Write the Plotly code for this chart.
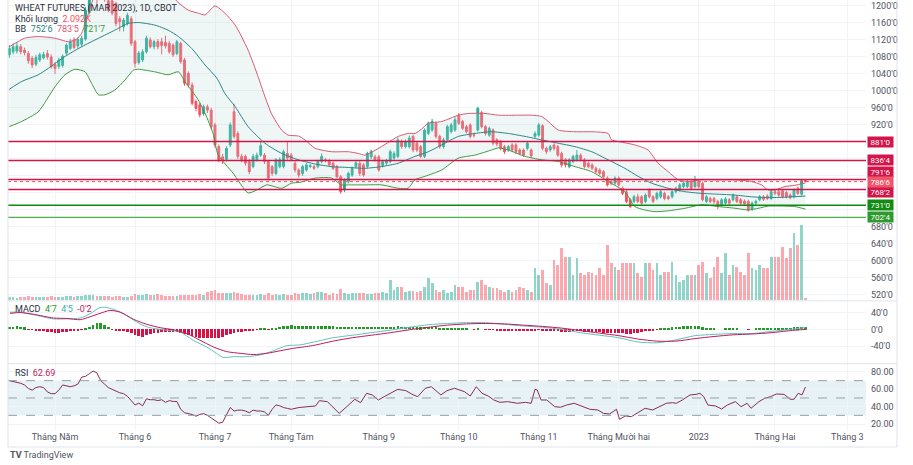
import pandas as pd
import plotly.graph_objects as go

# ---------------- data ----------------
TITLE = "WHEAT FUTURES (MAR 2023), 1D, CBOT"
holidays = ['2022-04-15', '2022-05-30', '2022-06-20', '2022-07-04', '2022-09-05',
            '2022-11-24', '2022-12-26', '2023-01-02', '2023-01-16', '2023-02-20']
tick_months = ['2022-05', '2022-06', '2022-07', '2022-08', '2022-09', '2022-10',
               '2022-11', '2022-12', '2023-01', '2023-02', '2023-03']
tick_labels = ['Tháng Năm', 'Tháng 6', 'Tháng 7', 'Tháng Tám', 'Tháng 9', 'Tháng 10',
               'Tháng 11', 'Tháng Mười hai', '2023', 'Tháng Hai', 'Tháng 3']

opens = [1085,1092,1094,1104,1096,1088,1077,1063,1073,1078,
         1088,1080,1062,1058,1060,1089,1100,1120,1106,1110,
         1122,1186,1240,1258,1245,1250,1212,1212,1206,1170,
         1151,1159,1170,1116,1067,1073,1092,1120,1104,1116,
         1116,1114,1112,1108,1088,1112,1073,1041,1014,975,
         967,947,963,955,920,869,845,839,873,951,
         900,846,846,834,822,838,849,849,834,822,
         806,822,822,853,849,830,814,806,814,822,
         822,822,834,838,834,830,822,798,767,787,
         802,822,830,826,822,845,845,845,824,830,
         834,842,846,881,869,869,893,877,869,846,
         900,908,924,893,869,885,904,908,943,928,
         916,920,897,908,949,916,896,908,885,881,
         869,861,873,873,861,861,865,861,893,896,
         918,865,861,873,869,853,838,822,834,838,
         849,838,830,826,818,814,810,795,787,783,
         795,771,763,744,740,751,751,740,767,751,
         747,751,759,751,751,763,767,775,775,787,
         775,787,783,740,747,747,740,732,736,744,
         744,751,744,741,740,722,736,744,751,753,
         747,763,763,765,761,755,751,771,757,789.5]
closes = [1100,1104,1106,1092,1090,1071,1061,1079,1085,1086,
          1080,1057,1053,1073,1082,1108,1116,1102,1121,1124,
          1190,1232,1262,1240,1255,1215,1190,1183,1159,1163,
          1167,1178,1112,1065,1089,1092,1124,1104,1116,1104,
          1107,1106,1092,1085,1116,1069,1018,1014,971,959,
          944,963,955,916,873,838,838,865,920,893,
          846,838,830,810,846,849,871,834,795,806,
          838,838,857,842,839,814,802,822,826,824,
          818,834,846,836,826,818,798,763,791,806,
          818,831,806,802,853,857,838,814,834,836,
          857,853,885,869,881,889,861,861,846,908,
          924,928,893,869,885,916,920,932,924,912,
          904,893,896,959,916,900,912,877,875,865,
          857,869,861,857,853,849,877,847,900,920,
          865,857,869,865,849,826,826,838,846,849,
          838,822,822,818,810,806,798,779,783,795,
          779,759,740,728,751,740,736,755,751,740,
          759,763,747,747,763,771,779,783,787,771,
          792,775,744,751,740,740,728,744,746,736,
          755,740,736,734,720,736,740,751,745,747,
          763,759,755,751,751,749,767,759,789,786.75]
highs = [1108,1112,1114,1110,1102,1094,1082,1085,1090,1092,
         1096,1086,1068,1078,1086,1112,1122,1126,1126,1130,
         1198,1245,1280,1268,1275,1262,1225,1220,1210,1176,
         1172,1184,1176,1120,1094,1098,1130,1126,1120,1122,
         1125,1130,1118,1112,1120,1116,1078,1046,1020,980,
         972,968,968,960,925,874,852,870,926,970,
         905,852,850,840,852,855,880,854,838,826,
         842,844,862,882,854,835,818,826,830,828,
         826,838,853,842,840,834,826,802,795,810,
         822,836,834,830,857,862,850,849,838,840,
         862,858,890,886,886,895,897,881,873,912,
         928,934,928,897,890,920,925,938,948,932,
         920,924,902,963,953,920,916,912,889,885,
         873,873,877,877,865,865,880,865,905,925,
         922,869,873,877,873,857,842,842,850,861,
         853,842,834,830,822,818,814,799,791,799,
         799,775,767,748,756,758,755,759,771,755,
         763,767,763,755,767,775,783,787,791,791,
         800,791,787,755,751,751,744,748,750,748,
         759,755,748,745,744,740,744,755,755,757,
         767,769,771,769,765,759,771,775,792,791.75]
lows = [1078,1086,1088,1086,1084,1064,1054,1058,1068,1074,
        1074,1052,1040,1052,1055,1084,1096,1098,1100,1104,
        1118,1180,1228,1205,1232,1210,1185,1178,1152,1140,
        1140,1154,1106,1055,1062,1068,1088,1100,1098,1098,
        1086,1100,1088,1080,1084,1064,1012,1008,966,952,
        938,942,948,910,866,832,828,834,868,888,
        840,832,824,804,818,834,845,828,790,800,
        802,818,818,838,834,808,796,800,810,818,
        814,818,830,832,822,814,794,758,762,782,
        798,818,800,798,818,840,834,810,820,826,
        830,838,842,864,865,865,856,856,842,842,
        896,904,888,864,864,880,900,904,920,908,
        900,888,890,904,912,895,892,872,870,860,
        852,857,856,852,849,845,860,842,888,892,
        860,852,857,860,845,820,820,818,830,834,
        834,818,818,814,806,802,794,775,778,779,
        775,755,736,724,736,736,732,736,747,736,
        743,747,743,743,747,759,763,771,771,767,
        771,771,740,736,736,734,722,728,732,732,
        740,736,732,730,716,718,732,740,741,743,
        743,755,751,747,747,745,747,755,754,785]
volumes_k = [3,3,2,3,3,4,3,3,3,3,
             3,4,3,3,3,4,4,3,4,4,
             5,5,5,4,4,4,4,3,4,4,
             3,3,4,6,5,5,6,5,5,6,
             5,4,4,4,4,5,5,5,5,5,
             6,5,8,9,10,7,7,7,7,8,
             7,6,5,5,5,5,6,5,7,5,
             6,5,6,5,5,7,6,7,7,6,
             7,8,8,7,5,7,6,11,7,6,
             7,7,7,7,6,6,7,7,8,7,
             20,10,13,13,8,9,9,8,9,13,
             22,17,10,8,10,7,8,15,13,13,
             8,10,10,18,20,15,13,12,12,10,
             8,10,8,10,13,12,10,8,32,25,
             30,17,15,40,35,52,43,43,25,42,
             27,25,28,27,25,32,25,55,37,33,
             30,37,37,37,37,27,23,37,37,30,
             37,25,28,28,38,25,18,20,25,25,
             25,35,38,27,22,33,43,27,47,25,
             35,33,28,25,47,32,30,35,32,32,
             43,43,43,53,42,52,67,55,75,2.092]

bb_up_x = [0,1.5,4,7.6,12,15.5,17.7,19,20.8,22,25,30,35,40,43.9,47,49.6,51.4,54,56.6,59.3,62.7,
           65.3,67.1,68.8,71.5,73.2,75.9,77.6,80.3,84.6,89,91.6,93.4,97.7,102.1,104.7,106.5,108.2,
           110,113.5,117.9,120.5,124.9,128.4,133.6,137.1,139.7,141.5,144.1,148.5,152.9,157.2,158.1,
           159.9,164.2,167.7,170.3,173,175.6,178.2,181.7,186.1,190.5,194.8,197.5,199.2,201,203.6,
           206.2,209]
bb_up = [1104,1112,1124,1128,1124,1116,1122,1136,1183,1216,1262,1295,1300,1268,1212,1190,1183,1179,
         1200,1183,1155,1096,1034,987,947,908,896,894,885,865,857,857,853,849,869,893,900,900,910,
         924,928,943,947,947,943,943,943,940,928,908,904,904,900,885,881,873,861,830,810,791,787,
         791,791,791,787,779,767,767,775,778,783.6]
bb_mid_x = [0,3.2,7.6,10.2,14.6,19,23.4,27.7,31.2,33.9,38.2,41.7,44.4,47.9,51.4,54.5,56.6,59.3,62.7,
            67.1,71.5,75.9,80.3,84.6,89,93.4,97.7,102.1,106.5,110,113.5,117.9,122.2,126.6,131,135.4,
            139.7,144.1,148.5,152.9,157.2,161.6,165.1,168.6,173,177.4,181.7,186.1,190.5,194.8,199.2,
            203.6,209]
bb_mid = [1004,1022,1038,1053,1081,1104,1124,1143,1159,1161,1155,1143,1128,1100,1061,1030,994,963,
          916,877,853,838,828,822,820,818,822,830,846,857,873,893,900,904,900,893,885,877,869,857,
          838,818,799,783,771,763,759,757,755,751,749,750,752.75]
bb_lo_x = [0,3.2,7.6,12,14.6,17.2,19.9,21.6,23.4,25.1,27.7,30.4,32.6,33.9,38.2,41.7,44.4,46.1,49.6,
           51.4,53.5,54.8,58.7,62.7,65,67.6,71.5,74.1,76.3,80.3,84.6,87.2,89,93.4,97.7,102.1,104.7,
           106.5,109.1,113.5,117.9,122.2,126.6,128.4,131,135.4,139.7,144.1,148.5,152.9,157.2,161.6,
           164.2,166.8,169.5,173,177.4,181.7,186.1,190.5,194,196.7,199.2,203.6,206.2,209]
bb_lo = [916,928,951,1010,1038,1051,1045,1018,991,991,1002,1026,1049,1051,1045,1038,1045,1022,979,
         947,900,850,807,760,767,779,771,783,785,795,795,779,779,779,779,771,771,791,799,814,842,849,
         861,866,861,846,838,834,822,810,787,763,728,720,716,718,724,732,728,724,720,724,729,729,
         728,721.9]

macd_x = [0.2,2.8,6.3,11.6,15.1,18.6,21.2,23.8,25.5,28.2,30.8,34.3,36.9,41.3,44.8,48.3,51.8,54.4,56.2,
          58.8,62.3,65.8,69.3,72.8,76.3,80,85,90,95,100,105,110,115,120,125,130,135,140,145,150,155,
          160,165,170,175,180,185,190,195,200,205,209]
macd = [40.8,41,35,25,25,27,37,52,52,45,33,13,4,-2,-6,-26,-42,-57,-67,-65,-65,-61,-51,-39,-37,
        -30,-20,-14,-8,-2,5,11,14,16,16,12,8,5,0,-8,-14,-20,-30,-32,-25,-15,-12,-10,-10,-5,0,4.5]
signal_x = [0.2,2.8,6.3,11.6,15.1,18.6,21.2,23.8,26.4,29.1,32.6,36.1,39.6,43.1,46.6,50.1,53.6,57.1,
            60.6,64.1,67.6,71.1,74.6,76.3,80,85,90,95,100,105,110,115,120,125,130,135,140,145,150,
            155,160,165,170,175,180,185,190,195,200,205,209]
signal = [38,40,36,27,26,23,30,38,45,41,24,12,4,-1,-10,-26,-42,-53,-57,-60,-57,-51,-45,-43,
          -38,-28,-20,-14,-8,-1,5,10,13,14,13,10,7,3,-3,-9,-15,-23,-28,-28,-22,-17,-13,-11,-8,-3,-0.2]
hist = [5,6,7,6,4,-1,-2,-3,-4,-5,
        -6,-7,-8,-8,-7,-6,-5,-4,-3,-1,
        2,6,11,15,14,10,6,-1,-3,-4,
        -4,-6,-9,-13,-16,-18,-15,-12,-10,-8,
        -7,-6,-6,-6,-6,-9,-12,-15,-17,-19,
        -21,-22,-22,-21,-20,-20,-19,-15,-11,-8,
        -6,-6,-5,-4,-3,-1,1,1,-1,1,
        3,5,7,8,9,8,7,7,7,7,
        8,8,8,8,7,7,6,5,5,6,
        6,6,5,5,6,6,5,5,5,5,
        6,6,7,6,6,6,5,4,4,5,
        6,6,5,3,3,3,3,3,3,2,
        1,0,-1,1,0,-1,-1,-2,-3,-3,
        -4,-4,-4,-4,-5,-5,-4,-5,-3,-1,
        -3,-4,-4,-4,-5,-6,-6,-6,-5,-5,
        -5,-6,-6,-7,-7,-7,-8,-9,-9,-8,
        -9,-10,-11,-11,-9,-8,-7,-5,-4,-3,
        -1,1,2,3,4,5,6,7,8,7,
        8,7,4,3,2,1,0,0,1,1,
        1,1,0,0,-1,0,1,2,2,2,
        3,3,3,3,3,3,4,4,5,4.7]

rsi_x = list(range(77)) + [80.4,81.4,83.5,86.6,88.6,90.7,92.2,93.8,95.3,96.9,98.4,100,102,104.1,105.6,
        107.2,109.2,110.8,112.3,113.3,114.9,116.9,119.5,121,122.6,124.1,125.7,127.2,128.8,130.8,133.4,
        135.5,137,138,138.6,139.6,141.1,143.2,144.7,146.3,148.3,150.4,152.4,154.5,156,157.6,159.4,
        160.2,161.7,163.3,164.8,166.9,168.9,170.5,172.5,174.1,175.1,176.7,178.7,180.3,181.3,182.3,
        183.4,185.4,187,188.5,190.6,192.1,193.7,194.7,196.8,198.3,199.8,201.4,203.4,205,206,207.1,
        208.1,209]
rsi = [70,69,68,67,65,61,59,62,63,62,57,55,55,59,65,64,63,64,66,74,
       75,78,81,79,70,66,62,60,58,56,55,52,47,42,44,41,49,48,48,47,
       48,45,47,46,46,37,33,32,31,29,31,32,30,27,24,21,22,30,39,35,
       36,36,35,33,36,35,35,34,30,37,42,41,39,38,37,38,39,
       40.8,46.9,45.8,32.3,40,48.5,44.6,55.4,53.5,47.7,51.5,55.4,60,58.5,54.6,51.5,61.2,63,57.3,53.5,
       58.5,61.2,57.3,52.3,63,55.4,52.3,47.7,45,45.8,43.9,45,43.9,60,59.2,47.7,47.7,40,39.3,41.9,
       43.9,40,37,36.2,32.3,31.6,37,25.4,29.3,28.5,32.3,38.1,36.2,40,43.9,44.6,43.9,47.7,53.5,54.2,
       55.4,51.5,41.9,40.8,37.3,41.9,45.8,40,43.9,38.1,45.8,49.6,51.5,54.6,54.2,48.5,48.5,55.4,53.5,
       62.69]

levels = [881.0, 836.5, 791.75, 768.25, 731.0, 702.5]
level_text = ["881'0", "836'4", "791'6", "768'2", "731'0", "702'4"]
last_price = 786.75
last_text = "786'6"
legend_vol = "2.092K"
legend_bb = ["752'6", "783'5", "721'7"]
legend_macd = ["4'7", "4'5", "-0'2"]
legend_rsi = "62.69"

# ---------------- styling ----------------
UP = '#22ab94'
DN = '#f7525f'
CRIMSON = '#d3154a'
GRID = '#f0f3fa'
AXIS_TXT = '#50535e'
FONT = 'Roboto'

sessions = [d for d in pd.bdate_range('2022-04-13', '2023-03-31') if d.strftime('%Y-%m-%d') not in holidays]
tick_idx = [next(i for i, d in enumerate(sessions) if d.strftime('%Y-%m') == m) for m in tick_months]
bars = list(range(len(closes)))
is_up = [c >= o for o, c in zip(opens, closes)]

fig = go.Figure()

fig.add_trace(go.Bar(x=bars, y=volumes_k, yaxis='y', xaxis='x', width=0.72,
                     marker=dict(color=['rgba(34,171,148,0.5)' if u else 'rgba(247,82,95,0.5)' for u in is_up],
                                 line_width=0), hoverinfo='skip'))
fig.add_trace(go.Scatter(x=bb_up_x + bb_lo_x[::-1], y=bb_up + bb_lo[::-1], yaxis='y2', xaxis='x',
                         fill='toself', fillcolor='rgba(178,216,216,0.22)', line=dict(width=0),
                         mode='lines', hoverinfo='skip'))
fig.add_trace(go.Scatter(x=bb_up_x, y=bb_up, yaxis='y2', mode='lines',
                         line=dict(color='#d9586e', width=1, shape='spline', smoothing=0.6), hoverinfo='skip'))
fig.add_trace(go.Scatter(x=bb_mid_x, y=bb_mid, yaxis='y2', mode='lines',
                         line=dict(color='#2b8585', width=1, shape='spline', smoothing=0.6), hoverinfo='skip'))
fig.add_trace(go.Scatter(x=bb_lo_x, y=bb_lo, yaxis='y2', mode='lines',
                         line=dict(color='#3f9a3f', width=1, shape='spline', smoothing=0.6), hoverinfo='skip'))
fig.add_trace(go.Candlestick(x=bars, open=opens, high=highs, low=lows, close=closes,
                             xaxis='x', yaxis='y2', whiskerwidth=0,
                             increasing=dict(line=dict(color=UP, width=1), fillcolor=UP),
                             decreasing=dict(line=dict(color=DN, width=1), fillcolor=DN),
                             hoverinfo='skip'))
fig.add_trace(go.Bar(x=bars, y=hist, yaxis='y3', xaxis='x', width=0.7,
                     marker=dict(color=['#259a25' if h >= 0 else '#dc0f45' for h in hist], line_width=0),
                     hoverinfo='skip'))
fig.add_trace(go.Scatter(x=macd_x, y=macd, yaxis='y3', mode='lines',
                         line=dict(color='#5fc2ba', width=1, shape='spline', smoothing=0.7), hoverinfo='skip'))
fig.add_trace(go.Scatter(x=signal_x, y=signal, yaxis='y3', mode='lines',
                         line=dict(color='#c2185b', width=1, shape='spline', smoothing=0.7), hoverinfo='skip'))
fig.add_trace(go.Scatter(x=rsi_x, y=rsi, yaxis='y4', mode='lines',
                         line=dict(color='#8a2d55', width=1), hoverinfo='skip'))

PRICE_DOM = [0.3012, 1.0]
MACD_DOM = [0.1547, 0.2995]
RSI_DOM = [0.0, 0.1535]

price_ticks = list(range(520, 1201, 40))
price_text = ["" if 700 < t < 900 else f"{t}'0" for t in price_ticks]

fig.update_layout(
    width=913, height=465, margin=dict(l=8, r=47, t=0, b=35),
    paper_bgcolor='white', plot_bgcolor='white', showlegend=False,
    font=dict(family=FONT, size=9, color=AXIS_TXT), bargap=0,
    xaxis=dict(domain=[0, 1], range=[-0.34, 224.9], anchor='y4', tickvals=tick_idx, ticktext=tick_labels,
               showgrid=True, gridcolor=GRID, gridwidth=1, zeroline=False, showline=False, ticks='',
               tickfont=dict(size=9, color=AXIS_TXT), rangeslider=dict(visible=False)),
    yaxis=dict(domain=PRICE_DOM, range=[0, 300.5], visible=False, fixedrange=True),
    yaxis2=dict(overlaying='y', side='right', anchor='x', range=[507, 1214], tickvals=price_ticks,
                ticktext=price_text, showgrid=True, gridcolor=GRID, zeroline=False, ticks='',
                tickfont=dict(size=9, color=AXIS_TXT), ticklabelstandoff=4),
    yaxis3=dict(domain=MACD_DOM, side='right', anchor='x', range=[-81.2, 67], tickvals=[-40, 0, 40],
                ticktext=["-40'0", "0'0", "40'0"], showgrid=True, gridcolor=GRID, zeroline=False, ticks='',
                tickfont=dict(size=9, color=AXIS_TXT), ticklabelstandoff=4),
    yaxis4=dict(domain=RSI_DOM, side='right', anchor='x', range=[13.1, 89.2], tickvals=[20, 40, 60, 80],
                ticktext=['20.00', '40.00', '60.00', '80.00'], showgrid=True, gridcolor=GRID, zeroline=False,
                ticks='', tickfont=dict(size=9, color=AXIS_TXT), ticklabelstandoff=4),
)

shapes = []
shapes.append(dict(type='rect', xref='paper', yref='y4', x0=0, x1=1, y0=30, y1=70,
                   fillcolor='rgba(200,226,232,0.45)', line=dict(width=0), layer='below'))
for lv in (70, 50, 30):
    shapes.append(dict(type='line', xref='paper', yref='y4', x0=0, x1=1, y0=lv, y1=lv,
                       line=dict(color='#9a9ea8', width=1, dash='dash')))
level_colors = [CRIMSON, CRIMSON, CRIMSON, CRIMSON, '#118a11', '#4cae4f']
for lv, col in zip(levels, level_colors):
    shapes.append(dict(type='line', xref='paper', yref='y2', x0=0, x1=1, y0=lv, y1=lv,
                       line=dict(color=col, width=1.4)))
shapes.append(dict(type='line', xref='paper', yref='y2', x0=0, x1=1, y0=last_price, y1=last_price,
                   line=dict(color='#f7525f', width=1, dash='dot')))
sep_color = '#e0e3eb'
for yy in (0.3003, 0.1541):
    shapes.append(dict(type='line', xref='paper', yref='paper', x0=0, x1=1.0361, y0=yy, y1=yy,
                       line=dict(color=sep_color, width=1)))
shapes.append(dict(type='line', xref='paper', yref='paper', x0=0, x1=1.0361, y0=-0.0395, y1=-0.0395,
                   line=dict(color=sep_color, width=1)))
shapes.append(dict(type='line', xref='paper', yref='paper', x0=1.0361, x1=1.0361, y0=-0.0395, y1=1,
                   line=dict(color=sep_color, width=1)))
shapes.append(dict(type='line', xref='paper', yref='paper', x0=0, x1=0, y0=-0.0395, y1=1,
                   line=dict(color=sep_color, width=1)))
fig.update_layout(shapes=shapes)

ann = []
box_colors = ['#d3154a', '#d3154a', '#d3154a', '#d3154a', '#138a13', '#2e9a2e']
box_shift = [0, 0, 7, -3, 0, 0]
for lv, txt, col, sh in zip(levels, level_text, box_colors, box_shift):
    ann.append(dict(xref='paper', yref='y2', x=1.0012, y=lv, yshift=sh, text=txt, showarrow=False,
                    xanchor='left', yanchor='middle', bgcolor=col, width=25, height=10, borderpad=0,
                    font=dict(size=8, color='white', family=FONT)))
ann.append(dict(xref='paper', yref='y2', x=1.0012, y=last_price, text=last_text, showarrow=False,
                xanchor='left', yanchor='middle', bgcolor='#f0566a', width=25, height=10, borderpad=0,
                font=dict(size=8, color='white', family=FONT)))


def legend(y_px, html):
    ann.append(dict(xref='paper', yref='paper', x=0.0058, y=(430 - y_px) / 430, text=html,
                    showarrow=False, xanchor='left', yanchor='middle',
                    font=dict(size=9, color='#2a2e39', family=FONT)))


legend(9, TITLE)
legend(19, f"Khối lượng  <span style='color:#f7525f'>{legend_vol}</span>")
legend(29, f"BB  <span style='color:#2b8585'>{legend_bb[0]}</span>  "
           f"<span style='color:#d9586e'>{legend_bb[1]}</span>  "
           f"<span style='color:#3f9a3f'>{legend_bb[2]}</span>")
legend(309, f"MACD  <span style='color:#2b9a2b'>{legend_macd[0]}</span>  "
            f"<span style='color:#3fb0a4'>{legend_macd[1]}</span>  "
            f"<span style='color:#c2185b'>{legend_macd[2]}</span>")
legend(373, f"RSI  <span style='color:#c2185b'>{legend_rsi}</span>")
ann.append(dict(xref='paper', yref='paper', x=0.0, y=(430 - 455) / 430,
                text="<b>TV</b> TradingView", showarrow=False, xanchor='left', yanchor='middle',
                font=dict(size=9, color='#50535e', family=FONT)))
fig.update_layout(annotations=ann)

fig.write_html("out.html")
